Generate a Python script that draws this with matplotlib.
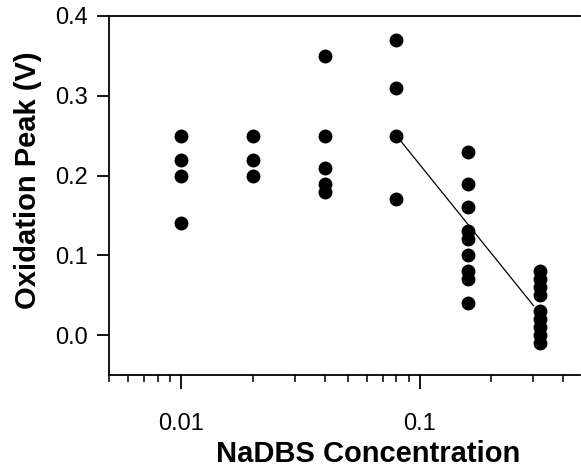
import matplotlib
matplotlib.use("Agg")
import matplotlib.pyplot as plt
from matplotlib.ticker import FixedLocator, NullFormatter

plt.rcParams['font.family'] = ['Liberation Sans', 'DejaVu Sans']

# NaDBS concentration and measured oxidation peaks (V)
conc_001 = [0.01] * 4
peak_001 = [0.25, 0.22, 0.20, 0.14]
conc_002 = [0.02] * 3
peak_002 = [0.25, 0.22, 0.20]
conc_004 = [0.04] * 5
peak_004 = [0.35, 0.25, 0.21, 0.19, 0.18]
conc_008 = [0.08] * 4
peak_008 = [0.37, 0.31, 0.25, 0.17]
conc_016 = [0.16] * 9
peak_016 = [0.23, 0.19, 0.16, 0.13, 0.12, 0.10, 0.08, 0.07, 0.04]
conc_032 = [0.32] * 9
peak_032 = [0.08, 0.07, 0.06, 0.05, 0.03, 0.02, 0.01, 0.00, -0.01]

fit_x = [0.08, 0.30]
fit_y = [0.25, 0.037]

x_major = [0.01, 0.1]
x_major_labels = ['0.01', '0.1']
y_ticks = [0.0, 0.1, 0.2, 0.3, 0.4]


def main():
    fig = plt.figure(figsize=(5.81, 4.68), dpi=100)
    ax = fig.add_axes([109 / 581, 1 - 375 / 468, (580 - 109) / 581, (375 - 16) / 468])

    xs = conc_001 + conc_002 + conc_004 + conc_008 + conc_016 + conc_032
    ys = peak_001 + peak_002 + peak_004 + peak_008 + peak_016 + peak_032
    ax.plot(xs, ys, 'o', color='black', ms=9, mec='black', zorder=3)
    ax.plot(fit_x, fit_y, '-', color='black', lw=0.9, zorder=2)

    ax.set_xscale('log')
    ax.set_xlim(0.005, 0.47)
    ax.set_ylim(-0.05, 0.4)

    ax.xaxis.set_major_locator(FixedLocator(x_major))
    ax.set_xticklabels(x_major_labels)
    minors = [m * d for d in (0.001, 0.01, 0.1) for m in range(2, 10)]
    ax.xaxis.set_minor_locator(FixedLocator(minors))
    ax.xaxis.set_minor_formatter(NullFormatter())
    ax.set_yticks(y_ticks)
    ax.set_yticklabels([f'{v:.1f}' for v in y_ticks])

    ax.spines['right'].set_visible(False)
    for s in ('left', 'bottom', 'top'):
        ax.spines[s].set_linewidth(1.3)

    ax.tick_params(axis='x', which='major', direction='out', length=10, width=1.3,
                   labelsize=17, pad=17)
    ax.tick_params(axis='x', which='minor', direction='out', length=5, width=1.1)
    ax.tick_params(axis='y', which='major', direction='out', length=8.5, width=1.3,
                   labelsize=17, pad=6.5)

    ax.set_xlabel('NaDBS Concentration', fontsize=21, fontweight='bold', labelpad=4)
    ax.set_ylabel('Oxidation Peak (V)', fontsize=21, fontweight='bold', labelpad=10)
    ax.xaxis.label.set_x((368 - 109) / 471)
    ax.yaxis.label.set_y((375 - 180) / 359)

    fig.savefig('out.png', dpi=100)


if __name__ == "__main__":
    main()
